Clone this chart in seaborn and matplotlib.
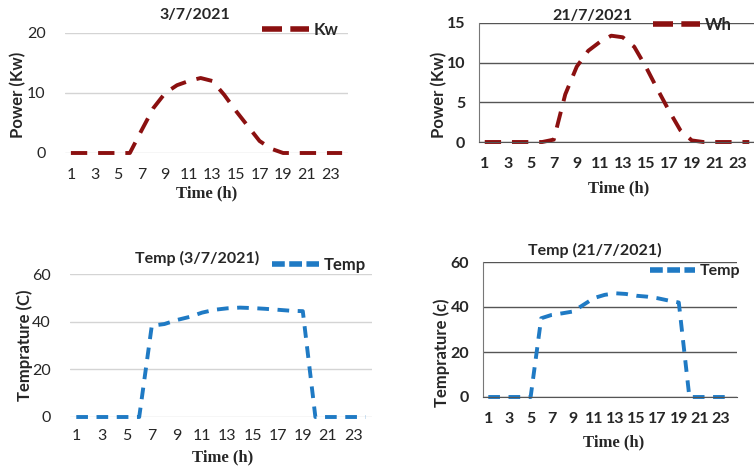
import numpy as np
import pandas as pd
import matplotlib
matplotlib.use("Agg")
import matplotlib.pyplot as plt
import seaborn as sns

# hourly readings (hours 1..24)
hours = list(range(1, 25))
power_3_7 = [0, 0, 0, 0, 0, 0, 3.8, 7.5, 10.0, 11.3, 12.0, 12.5,
             12.0, 9.7, 7.0, 4.5, 2.0, 0.7, 0, 0, 0, 0, 0, 0]
power_21_7 = [0, 0, 0, 0, 0, 0, 0.3, 6.0, 9.5, 11.5, 12.6, 13.4,
              13.2, 12.0, 9.5, 6.7, 4.0, 1.5, 0.2, 0, 0, 0, 0, 0]
temp_3_7 = [0, 0, 0, 0, 0, 0, 38.3, 39.0, 40.7, 42.0, 43.8, 45.0,
            45.6, 45.9, 45.7, 45.4, 45.0, 44.6, 44.4, 0, 0, 0, 0, 0]
temp_21_7 = [0, 0, 0, 0, 0, 35.0, 36.5, 37.2, 38.0, 41.0, 44.0, 45.4,
             46.1, 45.8, 45.0, 44.6, 43.9, 42.9, 42.0, 0, 0, 0, 0, 0]
hour_ticks = list(range(1, 24, 2))

sns.set_style("white")
plt.rcParams["font.family"] = ["Lato", "DejaVu Sans"]

RED = "#8b1010"
BLUE = "#1f7ac4"
W, H = 754, 468

fig = plt.figure(figsize=(W / 100, H / 100), dpi=100)


def px_axes(left, top, right, bottom):
    return fig.add_axes([left / W, 1 - bottom / H, (right - left) / W, (bottom - top) / H])


def panel(box, values, color, label, ymax, ystep, title, title_xy, ylabel, ylabel_xy,
          xlabel_xy, legend_xy, dashes, leg_dashes, dark_grid, xpad=11, leg_size=12):
    ax = px_axes(*box)
    df = pd.DataFrame({"hour": hours, "value": values})
    sns.lineplot(data=df, x="hour", y="value", ax=ax, color=color, lw=2.8,
                 label=label, clip_on=False)
    ax.lines[0].set_dashes(dashes)
    ax.set_xlim(0.5, 24.5)
    ax.set_ylim(0, ymax)
    ax.set_yticks(np.arange(0, ymax + 0.1, ystep))
    ax.set_xlabel(""); ax.set_ylabel("")
    gcol = "#555555" if dark_grid else "#d4d4d4"
    ax.yaxis.grid(True, color=gcol, lw=1.0)
    ax.set_axisbelow(True)
    for s in ax.spines.values():
        s.set_visible(False)
    if dark_grid:
        ax.spines["left"].set_visible(True)
        ax.spines["left"].set_color("#777777")
        ax.spines["bottom"].set_visible(True)
        ax.spines["bottom"].set_color("#555555")
        # tick marks between hours, labels on odd hours
        ax.set_xticks(np.arange(0.5, 25, 1))
        ax.set_xticklabels([])
        ax.tick_params(axis="x", which="major", length=5, color="#555555", pad=0)
        ax.set_xticks(hour_ticks, minor=True)
        ax.set_xticklabels([str(h) for h in hour_ticks], minor=True)
        ax.tick_params(axis="x", which="minor", length=0, pad=xpad, labelsize=11.5)
        for t in ax.get_xticklabels(minor=True):
            t.set_fontweight("bold")
        ax.tick_params(axis="y", length=0, pad=10, labelsize=11.5)
        for t in ax.get_yticklabels():
            t.set_fontweight("bold")
    else:
        ax.set_xticks(hour_ticks)
        ax.set_xticklabels([str(h) for h in hour_ticks])
        ax.tick_params(axis="x", length=0, pad=xpad, labelsize=11.5)
        ax.tick_params(axis="y", length=0, pad=14, labelsize=11.5)

    fig.text(title_xy[0] / W, 1 - title_xy[1] / H, title, ha="center", va="center",
             fontsize=11.5, fontweight="bold")
    fig.text(ylabel_xy[0] / W, 1 - ylabel_xy[1] / H, ylabel, ha="center", va="center",
             rotation=90, fontsize=12, fontweight="bold")
    fig.text(xlabel_xy[0] / W, 1 - xlabel_xy[1] / H, "Time (h)", ha="center", va="center",
             fontsize=12, fontweight="bold", family="Liberation Serif")
    leg = ax.legend(loc="center left", bbox_to_anchor=(legend_xy[0] / W, 1 - legend_xy[1] / H),
                    bbox_transform=fig.transFigure, frameon=False, handlelength=2.8,
                    borderaxespad=0, borderpad=0, handletextpad=0.3,
                    prop={"weight": "bold", "size": leg_size})
    leg.get_lines()[0].set_linewidth(4)
    leg.get_lines()[0].set_dashes(leg_dashes)
    return ax


panel((65, 33, 348, 153), power_3_7, RED, "Kw", 20, 10, "3/7/2021", (195, 15),
      "Power (Kw)", (18, 95), (207, 193), (262, 30), (4.2, 2.8), (3.6, 1.5), False)
panel((479, 23, 755, 142), power_21_7, RED, "Wh", 15, 5, "21/7/2021", (592, 16),
      "Power (Kw)", (439, 95), (619, 188), (653, 25), (4.2, 2.8), (3.6, 1.5), True)
panel((70, 274, 372, 417), temp_3_7, BLUE, "Temp", 60, 20, "Temp (3/7/2021)", (197, 258),
      "Temprature (C)", (25, 345), (223, 457), (272, 265), (3.0, 2.2), (2.3, 0.8), False, xpad=9)
panel((483, 262, 737, 397), temp_21_7, BLUE, "Temp", 60, 20, "Temp (21/7/2021)", (595, 250),
      "Temprature (c)", (442, 353), (614, 442), (650, 271), (3.0, 2.2), (2.3, 0.8), True,
      leg_size=11.5)

plt.savefig("out.png", dpi=100)
plt.close()
